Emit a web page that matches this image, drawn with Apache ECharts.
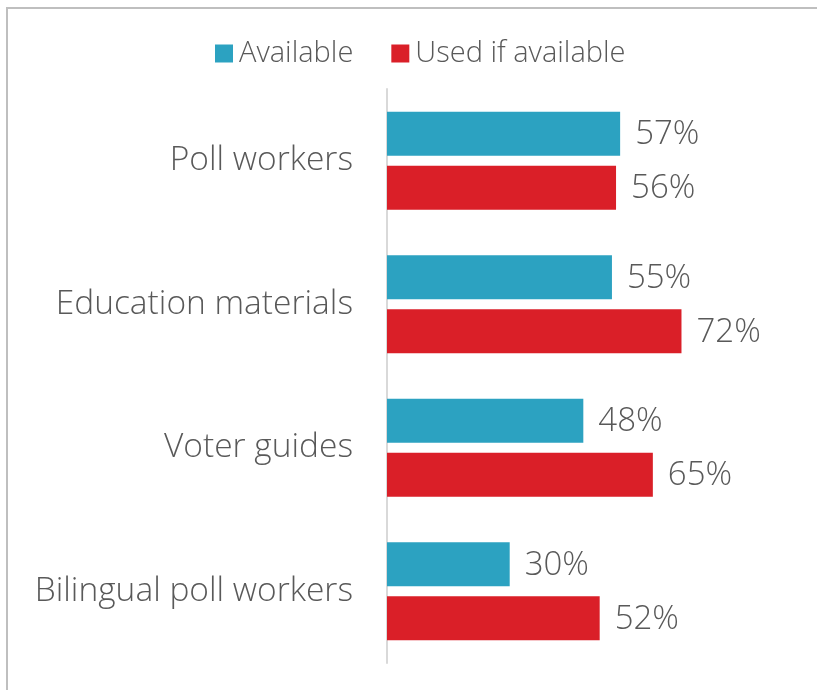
<!DOCTYPE html>
<html>
<head>
<meta charset="utf-8">
<script src="https://cdn.jsdelivr.net/npm/echarts@6/dist/echarts.min.js"></script>
<style>
html,body{margin:0;padding:0;background:#fff;}
#chart{width:817px;height:690px;}
</style>
</head>
<body>
<div id="chart"></div>
<script>
const categories = ['Poll workers', 'Education materials', 'Voter guides', 'Bilingual poll workers'];
const available = [57, 55, 48, 30];
const usedIfAvailable = [56, 72, 65, 52];
const seriesNames = ['Available', 'Used if available'];

const FONT = 'Open Sans';
const TEXT = '#595959';
const chart = echarts.init(document.getElementById('chart'), null, {renderer: 'canvas'});
chart.setOption({
  animation: false,
  backgroundColor: '#fff',
  graphic: [{
    type: 'rect', silent: true, z: -1,
    shape: {x: 7, y: 8, width: 1000, height: 1000},
    style: {fill: 'none', stroke: '#bfbfbf', lineWidth: 2}
  }],
  legend: {
    top: 34, left: 210,
    itemWidth: 18, itemHeight: 18, itemGap: 38,
    icon: 'rect',
    textStyle: {fontFamily: FONT, fontWeight: 300, fontSize: 29, color: TEXT, padding: [0, 0, 0, 1]},
    data: seriesNames
  },
  grid: {left: 387, right: 21, top: 89, bottom: 27, containLabel: false},
  xAxis: {
    type: 'value', min: 0, max: 100, show: false
  },
  yAxis: {
    type: 'category', inverse: true, data: categories,
    axisLine: {show: true, lineStyle: {color: '#d9d9d9', width: 2}},
    axisTick: {show: false},
    axisLabel: {fontFamily: FONT, fontWeight: 300, fontSize: 33.5, color: TEXT, margin: 34}
  },
  series: [
    {
      name: seriesNames[0], type: 'bar', data: available,
      barWidth: 44, barGap: '23%',
      itemStyle: {color: '#2ca2c1'},
      label: {show: true, position: 'right', distance: 15, offset: [0, 1], formatter: '{c}%', fontFamily: FONT, fontWeight: 300, fontSize: 33, color: TEXT}
    },
    {
      name: seriesNames[1], type: 'bar', data: usedIfAvailable,
      barWidth: 44, barGap: '23%',
      itemStyle: {color: '#da1f28'},
      label: {show: true, position: 'right', distance: 15, offset: [0, 1], formatter: '{c}%', fontFamily: FONT, fontWeight: 300, fontSize: 33, color: TEXT}
    }
  ]
});
</script>
</body>
</html>
